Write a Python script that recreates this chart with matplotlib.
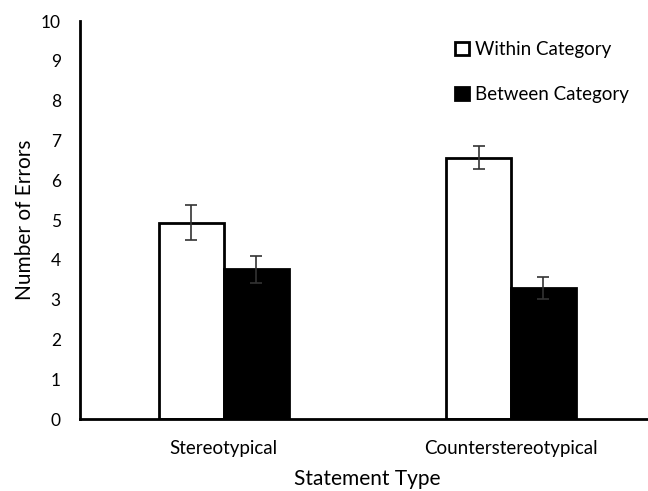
import matplotlib.pyplot as plt
import numpy as np

plt.rcParams['font.family'] = ['Lato', 'DejaVu Sans']

categories = ["Stereotypical", "Counterstereotypical"]
series_names = ["Within Category", "Between Category"]
within_vals = [4.93, 6.57]
within_err = [0.44, 0.30]
between_vals = [3.76, 3.30]
between_err = [0.34, 0.28]

fig = plt.figure(figsize=(6.48, 4.91), dpi=100)
ax = fig.add_axes([0.124, 0.1466, 0.886, 0.8106])

x = np.arange(len(categories))
w = 0.226
err_kw = dict(ecolor='#333333', elinewidth=1.2, capsize=4, capthick=1.2)
ax.bar(x - w / 2, within_vals, w, yerr=within_err, color='white',
       edgecolor='black', linewidth=2, label=series_names[0], error_kw=err_kw)
ax.bar(x + w / 2, between_vals, w, yerr=between_err, color='black',
       edgecolor='black', linewidth=2, label=series_names[1], error_kw=err_kw)

ax.set_xlim(-0.5, 1.5)
ax.set_ylim(0, 10)
ax.set_yticks(range(0, 11))
ax.set_xticks(x)
ax.set_xticklabels(categories)
ax.tick_params(axis='both', length=0)
ax.tick_params(axis='y', pad=14, labelsize=12.5)
ax.tick_params(axis='x', pad=15, labelsize=13.5)

for s in ['top', 'right']:
    ax.spines[s].set_visible(False)
for s in ['left', 'bottom']:
    ax.spines[s].set_linewidth(2)

ax.set_ylabel("Number of Errors", fontsize=15, labelpad=4)
ax.set_xlabel("Statement Type", fontsize=15, labelpad=9)

fig.legend(loc='upper left', bbox_to_anchor=(455 / 648, 1 - 41 / 491),
           frameon=False, fontsize=13.5, handlelength=0.75, handleheight=0.75,
           handletextpad=0.3, labelspacing=1.5, borderpad=0, borderaxespad=0)

fig.savefig("out.png", dpi=100)
